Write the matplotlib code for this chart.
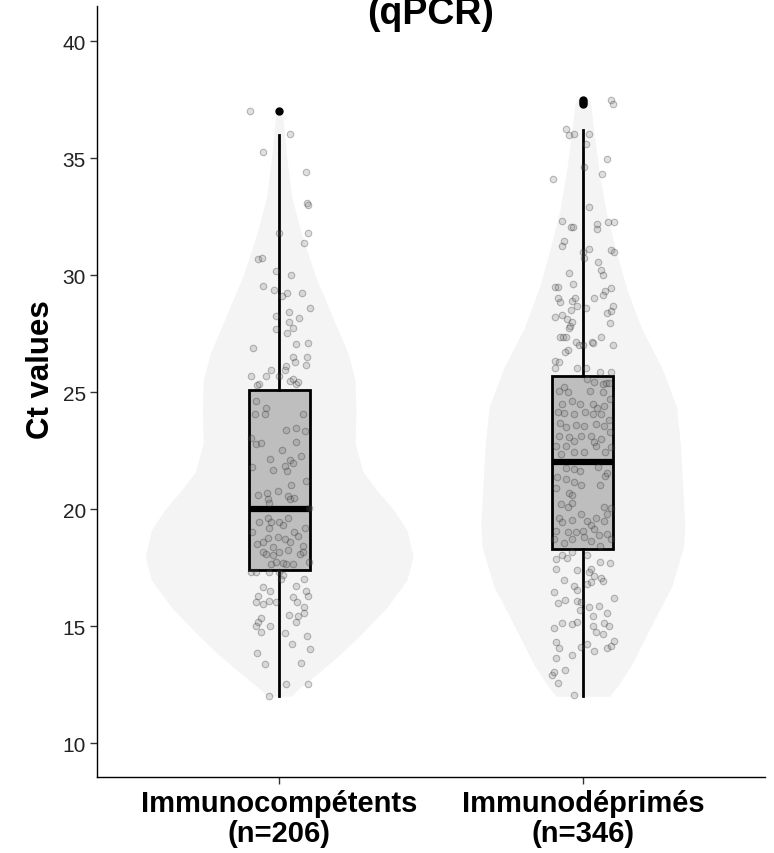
import matplotlib
matplotlib.use("Agg")
import matplotlib.pyplot as plt
import numpy as np

plt.rcParams["font.family"] = ["Liberation Sans", "DejaVu Sans"]

# --------------------------------------------------
# Data
# --------------------------------------------------
groups = ["Immunocompétents\n(n=206)", "Immunodéprimés\n(n=346)"]

# box statistics: low whisker, Q1, median, Q3, high whisker, outliers
box_q1 = [17.4, 18.3]
box_med = [20.0, 22.0]
box_q3 = [25.1, 25.7]
box_lo = [12.0, 12.0]
box_hi = [36.0, 36.2]
box_out = [[37.0], [37.3, 37.4, 37.5]]

# violin outlines: Ct level and half width (category units)
viol1_y = [37.1, 36.5, 35.0, 33.3, 31.7, 30.0, 28.3, 26.65, 25.5, 24.15, 22.8,
           21.6, 20.8, 20.0, 19.1, 17.97, 16.97, 15.8, 14.6, 13.8, 12.96, 12.3, 12.0]
viol1_w = [0.010, 0.014, 0.025, 0.042, 0.075, 0.118, 0.173, 0.227, 0.250, 0.253, 0.250,
           0.276, 0.322, 0.375, 0.421, 0.441, 0.421, 0.355, 0.266, 0.201, 0.125, 0.062, 0.040]
viol2_y = [37.6, 37.4, 36.2, 34.5, 32.8, 31.1, 29.4, 27.7, 26.05, 24.35, 22.65,
           20.97, 19.3, 18.4, 16.7, 15.05, 13.35, 12.5, 12.0]
viol2_w = [0.012, 0.025, 0.036, 0.053, 0.075, 0.108, 0.145, 0.194, 0.260, 0.309, 0.322,
           0.329, 0.336, 0.332, 0.293, 0.227, 0.161, 0.118, 0.088]

# jittered observations: Ct value and horizontal jitter offset
ct_g1 = [37.0, 36.03, 35.24, 34.39, 33.06, 32.99, 31.79, 31.79, 31.37, 30.68,
         30.74, 30.16, 30.01, 29.54, 29.37, 29.12, 29.23, 29.23, 28.58, 28.43,
         28.26, 28.00, 28.16, 27.69, 27.72, 27.52, 27.05, 27.09, 26.87, 26.52,
         26.27, 26.48, 26.15, 25.95, 26.13, 25.95, 25.70, 25.70, 25.70, 25.34,
         25.30, 25.49, 25.56, 25.34, 25.44,
         24.63, 24.34, 24.06, 24.06, 24.06, 23.39, 23.45, 23.35, 23.02, 22.78,
         22.82, 22.85, 22.54, 22.14, 22.11, 21.99, 22.25, 21.78, 21.67, 21.82,
         21.64, 21.21, 21.03, 20.78, 20.60, 20.67, 20.43, 20.28, 20.57, 20.43,
         20.46, 20.03,
         19.43, 19.64, 19.46, 19.43, 19.60, 19.32, 19.03, 19.20, 19.19, 18.82,
         18.72, 18.58, 19.03, 18.86, 18.50, 18.60, 18.75, 18.36, 18.43, 18.18,
         18.08, 18.03, 18.15, 18.26, 18.08, 18.15, 17.65, 17.72, 17.69, 17.65,
         17.65, 17.72, 17.32, 17.29, 17.29, 17.32, 17.18, 17.01,
         17.01, 16.65, 16.51, 16.70, 16.51, 16.30, 16.30, 16.01, 15.94, 16.08,
         16.04, 16.23, 16.01, 15.80, 15.56, 15.47, 15.44, 15.19, 15.33, 15.16,
         15.01, 15.01, 14.76, 14.70, 14.59, 14.23, 14.02, 13.85, 13.38, 13.42,
         12.52, 12.52, 12.02]
jit_g1 = [-0.095, 0.034, -0.052, 0.087, 0.091, 0.094, 0.001, 0.095, 0.083, -0.069,
          -0.056, -0.010, 0.039, -0.052, -0.018, 0.009, 0.026, 0.075, 0.100, 0.031,
          -0.010, 0.031, 0.065, -0.010, 0.047, 0.026, 0.056, 0.095, -0.087, 0.047,
          0.053, 0.091, 0.087, -0.026, 0.021, 0.018, -0.092, -0.043, 0.001, -0.065,
          -0.073, 0.034, 0.047, 0.056, 0.061,
          -0.076, -0.043, -0.081, -0.048, 0.078, 0.023, 0.054, 0.086, -0.092, -0.076,
          -0.059, 0.054, 0.010, -0.030, 0.034, 0.045, 0.072, -0.089, -0.021, 0.018,
          0.025, 0.089, 0.040, -0.004, -0.070, -0.041, -0.037, -0.032, 0.029, 0.037,
          0.050, 0.098,
          -0.065, -0.037, -0.026, 0.001, 0.029, 0.012, -0.089, 0.086, -0.032, -0.004,
          0.018, 0.034, 0.050, 0.061, -0.072, -0.054, -0.037, -0.021, 0.078, -0.054,
          -0.043, -0.021, 0.001, 0.029, 0.067, 0.078, -0.026, -0.010, 0.012, 0.021,
          0.045, 0.098, -0.092, -0.076, -0.032, 0.001, 0.012, 0.007,
          0.083, -0.052, -0.030, 0.056, 0.087, -0.070, 0.095, -0.076, -0.052, -0.034,
          -0.010, 0.047, 0.059, 0.083, 0.083, 0.031, 0.061, 0.056, -0.061, -0.070,
          -0.076, -0.030, -0.059, 0.018, 0.091, 0.043, 0.100, -0.073, -0.046, 0.072,
          0.021, 0.095, -0.032]

ct_g2 = [37.49, 37.31, 36.24, 35.98, 36.03, 36.03, 35.60, 34.96, 34.64, 34.32,
         34.10, 32.89, 32.32, 32.04, 32.04, 32.18, 31.99, 32.28, 32.28, 31.47,
         31.23, 30.97, 30.75, 31.11, 31.08, 30.97, 30.54, 30.23, 30.01, 30.11,
         29.64, 29.47, 29.51, 29.43, 29.33, 29.15, 29.00, 28.86, 28.90, 29.00,
         29.00, 28.69, 28.58, 28.52, 28.69, 28.48, 28.38, 28.19, 28.29, 28.12,
         27.98, 27.81, 27.72, 27.95, 27.34, 27.34, 27.34, 26.81, 26.70, 27.12,
         27.01, 27.01, 27.15, 27.09, 27.34, 27.01, 26.34, 26.30, 26.05, 26.01,
         26.05, 25.87, 25.84, 25.20, 25.55, 25.41, 25.34, 25.38, 25.38,
         25.06, 25.01, 25.06, 24.99, 24.70, 24.49, 24.63, 24.49, 24.49, 24.34,
         24.39, 24.13, 24.10, 24.06, 24.13, 24.06, 24.06, 23.82, 23.70, 23.49,
         23.59, 23.53, 23.63, 23.56, 23.13, 23.06, 22.92, 23.13, 23.13, 22.88,
         22.99, 23.28, 22.68, 22.68, 22.42, 22.42, 22.71, 22.42, 22.64, 22.36,
         21.74, 21.71, 21.64, 21.78, 21.35, 21.28, 21.14, 21.03, 21.03, 21.40,
         21.54, 20.88, 20.68, 20.60, 20.28, 20.21, 19.79, 20.07, 20.07, 20.03,
         19.79, 19.64, 19.46, 19.54, 19.50, 19.64, 19.50, 19.07, 19.03, 19.00,
         19.07, 19.32, 19.17, 18.89, 18.93, 18.57, 18.72, 18.79, 18.65, 18.44,
         18.72, 18.72,
         18.03, 17.89, 18.15, 17.86, 18.03, 17.72, 17.69, 17.44, 17.29, 17.12,
         17.44, 17.41, 17.04, 16.98, 16.87, 16.94, 16.79, 16.47, 16.72, 16.55,
         15.98, 16.13, 16.08, 16.01, 16.18, 15.70, 15.80, 15.44, 15.87, 15.56,
         14.90, 15.13, 15.09, 15.16, 14.99, 14.73, 15.13, 15.01, 14.66, 14.33,
         14.05, 14.09, 14.23, 13.95, 14.05, 14.16, 14.37, 13.76, 13.62, 13.13,
         12.91, 13.02, 12.56, 12.05]
jit_g2 = [0.092, 0.098, -0.056, -0.045, -0.029, 0.021, 0.012, 0.081, 0.004, 0.063,
          -0.098, 0.021, -0.067, -0.039, -0.032, 0.046, 0.046, 0.084, 0.103, -0.061,
          -0.070, -0.001, 0.004, 0.021, 0.094, 0.103, 0.050, 0.059, 0.068, -0.045,
          -0.032, -0.092, -0.083, 0.094, 0.072, 0.068, -0.081, -0.075, -0.034, -0.026,
          0.037, -0.018, 0.012, -0.039, 0.098, 0.092, 0.081, -0.092, -0.067, -0.053,
          -0.037, -0.041, -0.045, 0.090, -0.075, -0.064, -0.056, -0.050, -0.059, -0.023,
          -0.012, 0.002, 0.029, 0.035, 0.061, 0.101, -0.092, -0.078, -0.092, -0.018,
          0.010, 0.057, 0.094, -0.061, 0.015, 0.037, 0.065, 0.075, 0.086,
          -0.078, -0.050, 0.024, 0.065, 0.090, -0.067, -0.036, -0.009, 0.032, 0.046,
          0.070, -0.083, -0.061, -0.029, 0.007, 0.032, 0.059, 0.087, -0.075, -0.056,
          -0.023, 0.004, 0.043, 0.070, -0.078, -0.045, -0.029, -0.007, 0.026, 0.037,
          0.059, 0.090, -0.089, -0.056, -0.029, 0.004, 0.043, 0.072, 0.092, -0.072,
          -0.056, -0.029, -0.009, 0.050, -0.086, -0.056, -0.029, -0.007, 0.057, 0.072,
          0.079, -0.089, -0.045, -0.034, -0.037, -0.072, -0.007, -0.050, 0.070, 0.092,
          0.081, -0.078, -0.067, -0.034, 0.015, 0.043, 0.070, -0.089, -0.050, -0.023,
          -0.001, 0.026, 0.037, 0.054, 0.081, -0.061, -0.034, 0.004, 0.026, 0.057,
          -0.094, 0.092,
          -0.067, -0.053, -0.037, -0.089, 0.015, 0.057, 0.090, 0.026, 0.021, 0.037,
          -0.089, -0.020, 0.059, -0.061, 0.026, 0.065, 0.015, -0.096, -0.029, -0.020,
          -0.083, -0.059, -0.020, -0.007, 0.103, -0.009, 0.021, 0.032, 0.054, 0.081,
          -0.096, -0.070, -0.034, -0.020, 0.035, 0.043, 0.070, 0.087, 0.065, -0.089,
          -0.080, -0.007, 0.015, 0.037, 0.081, 0.094, 0.103, -0.037, -0.089, -0.059,
          -0.100, -0.094, -0.083, -0.029]

y_ticks = [10, 15, 20, 25, 30, 35, 40]

# --------------------------------------------------
# Plot
# --------------------------------------------------
fig = plt.figure(figsize=(7.74, 8.54), dpi=100)
ax = fig.add_axes([97 / 774, 76 / 854, 668 / 774, 771 / 854])

positions = [1, 2]
violins = [(viol1_y, viol1_w), (viol2_y, viol2_w)]
for pos, (vy, vw) in zip(positions, violins):
    vy = np.array(vy)
    vw = np.array(vw)
    ax.fill_betweenx(vy, pos - vw, pos + vw, color="#f4f4f4", lw=0, zorder=1)

stats = []
for i in range(2):
    stats.append(dict(med=box_med[i], q1=box_q1[i], q3=box_q3[i],
                      whislo=box_lo[i], whishi=box_hi[i], fliers=box_out[i]))
ax.bxp(stats, positions=positions, widths=0.2, showcaps=False, patch_artist=True,
       boxprops=dict(facecolor="#bebebe", edgecolor="black", linewidth=2.0),
       medianprops=dict(color="black", linewidth=4.5, solid_capstyle="butt"),
       whiskerprops=dict(color="black", linewidth=2.0),
       flierprops=dict(marker="o", markerfacecolor="black", markeredgecolor="black",
                       markersize=5),
       zorder=2)

for pos, ct, jit in [(1, ct_g1, jit_g1), (2, ct_g2, jit_g2)]:
    xs = pos + np.array(jit)
    ax.scatter(xs, ct, s=22, facecolor=(0.45, 0.45, 0.45, 0.22),
               edgecolor=(0.1, 0.1, 0.1, 0.28), linewidths=0.8, zorder=3)

ax.set_xlim(0.4, 2.6)
ax.set_ylim(8.55, 41.5)
ax.set_xticks(positions)
ax.set_xticklabels(groups, fontsize=21, fontweight="bold", linespacing=1.05)
ax.set_yticks(y_ticks)
ax.tick_params(axis="y", labelsize=15, length=5, width=1, color="#333333",
               labelcolor="#222222", pad=3)
ax.tick_params(axis="x", length=5, width=1, color="#333333", labelcolor="black", pad=4)

for side in ["top", "right"]:
    ax.spines[side].set_visible(False)
for side in ["left", "bottom"]:
    ax.spines[side].set_linewidth(1.0)
    ax.spines[side].set_color("black")

ax.set_ylabel("Ct values", fontsize=22.5, fontweight="bold")
ax.yaxis.set_label_coords(-0.062, 0.53)

fig.text(431 / 774, 1 - 32 / 854, "(qPCR)", ha="center", va="bottom",
         fontsize=27, fontweight="bold")

fig.savefig("out.png", dpi=100)
